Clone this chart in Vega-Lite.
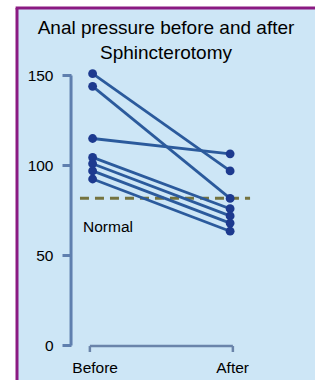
{
  "$schema": "https://vega.github.io/schema/vega-lite/v6.json",
  "width": 298,
  "height": 372,
  "autosize": {"type": "none"},
  "padding": {"left": 17, "top": 8, "right": 0, "bottom": 0},
  "background": "white",
  "title": {
    "text": ["Anal pressure before and after", "Sphincterotomy"],
    "font": "Liberation Sans",
    "fontSize": 19,
    "fontWeight": "normal",
    "color": "#000000",
    "lineHeight": 25,
    "baseline": "top",
    "anchor": "middle",
    "frame": "group",
    "offset": -56,
    "dx": 0
  },
  "config": {
    "view": {"fill": "#cde6f6", "stroke": "transparent", "strokeWidth": 0}
  },
  "layer": [
    {
      "data": {"values": [{}]},
      "mark": {"type": "rule", "color": "#74733f", "strokeWidth": 3, "strokeDash": [9, 6]},
      "encoding": {
        "x": {"datum": -0.092, "type": "quantitative"},
        "x2": {"datum": 1.145},
        "y": {"datum": 81.8, "type": "quantitative"}
      }
    },
    {
      "data": {"values": [{}]},
      "mark": {"type": "rule", "color": "#5f7fae", "strokeWidth": 3},
      "encoding": {
        "x": {"datum": -0.157, "type": "quantitative"},
        "y": {"datum": 0, "type": "quantitative"},
        "y2": {"datum": 150}
      }
    },
    {
      "data": {"values": [{}]},
      "mark": {"type": "rule", "color": "#6a84aa", "strokeWidth": 2.5},
      "encoding": {
        "x": {"datum": -0.02, "type": "quantitative"},
        "x2": {"datum": 1.02},
        "y": {"datum": -0.3, "type": "quantitative"}
      }
    },
    {
      "data": {"values": [{}]},
      "mark": {"type": "rule", "color": "#6a84aa", "strokeWidth": 2.5},
      "encoding": {
        "x": {"datum": -0.02, "type": "quantitative"},
        "y": {"datum": -0.3, "type": "quantitative"},
        "y2": {"datum": -3.6}
      }
    },
    {
      "data": {"values": [{}]},
      "mark": {"type": "rule", "color": "#6a84aa", "strokeWidth": 2.5},
      "encoding": {
        "x": {"datum": 1.02, "type": "quantitative"},
        "y": {"datum": -0.3, "type": "quantitative"},
        "y2": {"datum": -3.6}
      }
    },
    {
      "data": {"values": [{}]},
      "mark": {"type": "rule", "color": "#8b1a82", "strokeWidth": 3},
      "encoding": {
        "x": {"datum": -0.55, "type": "quantitative"},
        "y": {"datum": -19.1667, "type": "quantitative"},
        "y2": {"datum": 187.5}
      }
    },
    {
      "data": {"values": [{}]},
      "mark": {"type": "rule", "color": "#8b1a82", "strokeWidth": 3},
      "encoding": {
        "x": {"datum": -0.56, "type": "quantitative"},
        "x2": {"datum": 1.72},
        "y": {"datum": 187.5, "type": "quantitative"}
      }
    },
    {
      "data": {"name": "pressures", "values": [
        {"patient": 1, "phase": "Before", "pressure": 151},
        {"patient": 1, "phase": "After", "pressure": 97},
        {"patient": 2, "phase": "Before", "pressure": 144},
        {"patient": 2, "phase": "After", "pressure": 81.7},
        {"patient": 3, "phase": "Before", "pressure": 115},
        {"patient": 3, "phase": "After", "pressure": 106.5},
        {"patient": 4, "phase": "Before", "pressure": 104.5},
        {"patient": 4, "phase": "After", "pressure": 76},
        {"patient": 5, "phase": "Before", "pressure": 101},
        {"patient": 5, "phase": "After", "pressure": 72},
        {"patient": 6, "phase": "Before", "pressure": 97},
        {"patient": 6, "phase": "After", "pressure": 68},
        {"patient": 7, "phase": "Before", "pressure": 92.5},
        {"patient": 7, "phase": "After", "pressure": 63.5}
      ]},
      "transform": [{"calculate": "indexof(['Before','After'], datum.phase)", "as": "t"}],
      "mark": {"type": "line", "color": "#2b5a9c", "strokeWidth": 2.8},
      "encoding": {
        "x": {
          "field": "t", "type": "quantitative",
          "scale": {"domain": [-0.55, 1.6173], "nice": false, "zero": false},
          "axis": {
            "values": [0, 1],
            "labelExpr": "datum.value == 0 ? 'Before' : 'After'",
            "offset": -20,
            "domain": false,
            "ticks": false,
            "tickSize": 0,
            "labelPadding": 0,
            "labelOffset": 2,
            "labelFlush": false,
            "labelBound": false,
            "grid": false,
            "title": null,
            "labelFont": "Liberation Sans",
            "labelFontSize": 15.5,
            "labelColor": "#000000"
          }
        },
        "y": {
          "field": "pressure", "type": "quantitative",
          "scale": {"domain": [-19.1667, 187.5], "nice": false, "zero": false},
          "axis": {
            "values": [0, 50, 100, 150],
            "offset": -54,
            "domain": false,
            "tickSize": 9,
            "tickWidth": 3,
            "tickColor": "#5f7fae",
            "labelPadding": 9,
            "grid": false,
            "title": null,
            "labelFont": "Liberation Sans",
            "labelFontSize": 15.5,
            "labelColor": "#000000",
            "labelFlush": false,
            "labelBound": false
          }
        },
        "detail": {"field": "patient", "type": "nominal"}
      }
    },
    {
      "data": {"name": "pressures"},
      "transform": [{"calculate": "indexof(['Before','After'], datum.phase)", "as": "t"}],
      "mark": {"type": "circle", "color": "#1d3a8f", "size": 78, "opacity": 1},
      "encoding": {
        "x": {"field": "t", "type": "quantitative"},
        "y": {"field": "pressure", "type": "quantitative"}
      }
    },
    {
      "data": {"values": [{}]},
      "mark": {"type": "text", "text": "Normal", "align": "left", "baseline": "alphabetic", "font": "Liberation Sans", "fontSize": 15.5, "color": "#000000"},
      "encoding": {
        "x": {"datum": -0.07, "type": "quantitative"},
        "y": {"datum": 63.2, "type": "quantitative"}
      }
    }
  ]
}
